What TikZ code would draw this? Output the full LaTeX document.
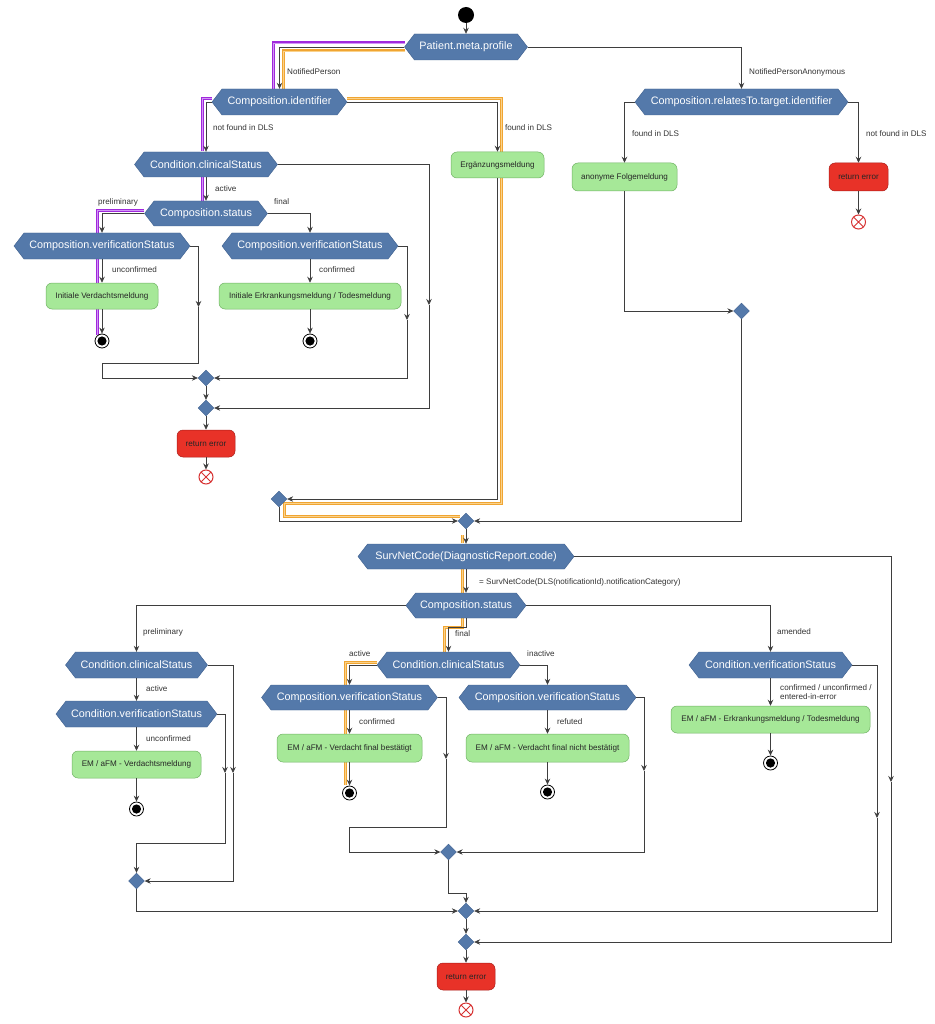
\documentclass[tikz,border=0pt]{standalone}
\usepackage{fontspec}
\setmainfont{Liberation Sans}
\usetikzlibrary{shapes.geometric,shapes.symbols,arrows.meta}
\definecolor{hexblue}{RGB}{84,121,170}
\definecolor{hexborder}{RGB}{62,96,142}
\definecolor{gfill}{RGB}{166,232,152}
\definecolor{gborder}{RGB}{112,178,100}
\definecolor{rfill}{RGB}{232,50,40}
\definecolor{rborder}{RGB}{170,30,25}
\definecolor{lgray}{RGB}{62,62,62}
\definecolor{purp}{RGB}{160,40,220}
\definecolor{purpl}{RGB}{210,150,245}
\definecolor{oran}{RGB}{240,165,50}
\definecolor{oranl}{RGB}{250,210,140}
\definecolor{xred}{RGB}{215,50,50}
\begin{document}
\begin{tikzpicture}[x=1pt,y=-1pt,
  hexnode/.style={shape=signal, signal to=west and east, signal pointer angle=105, fill=hexblue, draw=hexborder, line width=0.4pt, text=white, font=\fontsize{10.8}{12}\selectfont, inner sep=0pt, minimum height=26pt},
  gbox/.style={rectangle, rounded corners=6pt, fill=gfill, draw=gborder, line width=0.5pt, font=\fontsize{8.1}{9}\selectfont, text=black!85, inner sep=0pt, minimum height=27pt},
  rbox/.style={rectangle, rounded corners=6pt, fill=rfill, draw=rborder, line width=0.5pt, font=\fontsize{8.1}{9}\selectfont, text=black!85, inner sep=0pt, minimum height=27pt},
  dia/.style={diamond, fill=hexblue, draw=hexborder, line width=0.3pt, minimum width=16pt, minimum height=16pt, inner sep=0pt},
  conn/.style={draw=lgray, line width=0.7pt},
  arr/.style={conn, -{Stealth[length=6pt,width=5.5pt,inset=2pt]}},
  lbl/.style={font=\fontsize{8.1}{9}\selectfont, text=black!80, anchor=west, inner sep=0pt},
  startnode/.style={circle, fill=black, minimum size=16pt, inner sep=0pt},
  endnode/.style={circle, draw=black, line width=0.8pt, fill=white, minimum size=14pt, inner sep=0pt, path picture={\fill[black] (path picture bounding box.center) circle (4.6pt);}},
  xnode/.style={circle, draw=xred, line width=1pt, fill=white, minimum size=14pt, inner sep=0pt, path picture={\draw[xred,line width=1pt] (path picture bounding box.south west) -- (path picture bounding box.north east) (path picture bounding box.north west) -- (path picture bounding box.south east);}},
  purpline/.style={line width=3pt, draw=purp, postaction={draw=purpl, line width=0.9pt}},
  oranline/.style={line width=3pt, draw=oran, postaction={draw=oranl, line width=0.9pt}}
]
\useasboundingbox[fill=white] (0,0) rectangle (934,1024);

% ---------- highlight paths ----------
\draw[purpline] (405,43) -- (273,43) -- (273,89);
\draw[purpline] (212,98.5) -- (202,98.5) -- (202,151);
\draw[purpline] (202,177) -- (202,201);
\draw[purpline] (144,210.5) -- (97.5,210.5) -- (97.5,233);
\draw[purpline] (97.5,259) -- (97.5,283);
\draw[purpline] (97.5,309) -- (97.5,335);

\draw[oranline] (405,51) -- (283,51) -- (283,89);
\draw[oranline] (347,98.5) -- (501.5,98.5) -- (501.5,152);
\draw[oranline] (501.5,178) -- (501.5,503) -- (284,503) -- (284,516) -- (460,516);
\draw[oranline] (462,535) -- (462,543);
\draw[oranline] (462,569) -- (462,593);
\draw[oranline] (462,618) -- (462,627) -- (444.5,627) -- (444.5,652);
\draw[oranline] (377,662) -- (345,662) -- (345,685);
\draw[oranline] (345,710) -- (345,734);
\draw[oranline] (345,762) -- (345,785);

% ---------- nodes: top ----------
\node[startnode] (start) at (466,15) {};
\node[hexnode, minimum width=123pt] (pmp) at (466,47) {Patient.meta.profile};
\node[hexnode, minimum width=135pt] (ci) at (279.5,102) {Composition.identifier};
\node[hexnode, minimum width=213pt] (crt) at (741.5,102) {Composition.relatesTo.target.identifier};
\node[hexnode, minimum width=143pt, minimum height=25pt] (ccs1) at (206,164.5) {Condition.clinicalStatus};
\node[gbox, minimum width=93pt, minimum height=26pt] (erg) at (497.5,165) {Ergänzungsmeldung};
\node[gbox, minimum width=105pt, minimum height=28pt] (anon) at (624.5,177) {anonyme Folgemeldung};
\node[rbox, minimum width=59pt, minimum height=28pt] (err1) at (858.5,177) {return error};
\node[xnode] (x1) at (858.5,222) {};
\node[dia] (danon) at (741.5,311) {};

\node[hexnode, minimum width=123pt, minimum height=25pt] (cs1) at (206,213.5) {Composition.status};
\node[hexnode, minimum width=176pt] (cvs1) at (102,246) {Composition.verificationStatus};
\node[hexnode, minimum width=176pt] (cvs2) at (310,246) {Composition.verificationStatus};
\node[gbox, minimum width=112pt, minimum height=26pt] (ivm) at (102,296) {Initiale Verdachtsmeldung};
\node[gbox, minimum width=182pt, minimum height=26pt] (iet) at (310,296) {Initiale Erkrankungsmeldung / Todesmeldung};
\node[endnode] (e1) at (102,341) {};
\node[endnode] (e2) at (310,341) {};
\node[dia] (d1) at (206,378) {};
\node[dia] (d2) at (206,408) {};
\node[rbox, minimum width=58pt] (err2) at (206,443.5) {return error};
\node[xnode] (x2) at (206,477) {};
\node[dia] (d3) at (279,499) {};
\node[dia] (d4) at (466,521) {};

% ---------- nodes: bottom ----------
\node[hexnode, minimum width=216pt, minimum height=25pt] (svc) at (466,556.5) {SurvNetCode(DiagnosticReport.code)};
\node[hexnode, minimum width=120pt, minimum height=25pt] (cs2) at (466,605.5) {Composition.status};
\node[hexnode, minimum width=142pt] (ccs2) at (136.5,665) {Condition.clinicalStatus};
\node[hexnode, minimum width=161pt] (cvf) at (136.5,714) {Condition.verificationStatus};
\node[gbox, minimum width=129pt] (vm) at (136.5,764.5) {EM / aFM - Verdachtsmeldung};
\node[endnode] (e3) at (136.5,809) {};
\node[hexnode, minimum width=143pt] (ccs3) at (448.5,665) {Condition.clinicalStatus};
\node[hexnode, minimum width=176pt, minimum height=25pt] (cvs3) at (349.5,697.5) {Composition.verificationStatus};
\node[gbox, minimum width=145pt, minimum height=28pt] (vfb) at (349.5,748) {EM / aFM - Verdacht final bestätigt};
\node[endnode] (e4) at (349.5,793) {};
\node[hexnode, minimum width=177pt, minimum height=25pt] (cvs4) at (547.5,697.5) {Composition.verificationStatus};
\node[gbox, minimum width=163pt, minimum height=28pt] (vfnb) at (547.5,748) {EM / aFM - Verdacht final nicht bestätigt};
\node[endnode] (e5) at (547.5,792) {};
\node[hexnode, minimum width=163pt] (cvs5) at (770.5,665) {Condition.verificationStatus};
\node[gbox, minimum width=199pt] (ekt) at (770.5,719.5) {EM / aFM - Erkrankungsmeldung / Todesmeldung};
\node[endnode] (e6) at (770.5,763) {};
\node[dia] (d5) at (136.5,881) {};
\node[dia] (d6) at (448.5,852) {};
\node[dia] (d7) at (466,911) {};
\node[dia] (d8) at (466,942) {};
\node[rbox, minimum width=58pt] (err3) at (466,976.5) {return error};
\node[xnode] (x3) at (466,1010) {};

% ---------- mid-arrow coordinates ----------
\coordinate (m1) at (429,305);
\coordinate (m2) at (198.5,307);
\coordinate (m3) at (407,320);
\coordinate (m5) at (891,782);
\coordinate (m6) at (233,773);
\coordinate (m7) at (225,773);
\coordinate (m8) at (446,759);
\coordinate (m9) at (644,771);
\coordinate (m10) at (877,818);

% ---------- connectors: top ----------
\draw[arr] (start) -- (pmp.north);
\draw[arr] (pmp.west) -| (ci.north);
\draw[arr] (pmp.east) -| (crt.north);
\draw[arr] (ci.west) -| (ccs1.north);
\draw[arr] (ci.east) -| (erg.north);
\draw[arr] (crt.west) -| (anon.north);
\draw[arr] (crt.east) -| (err1.north);
\draw[arr] (err1.south) -- (x1);
\draw[arr] (anon.south) |- (danon.west);
\draw[arr] (danon.south) |- (d4.east);
\draw[arr] (ccs1.east) -| (m1);
\draw[arr] (m1) |- (d2.east);
\draw[arr] (ccs1.south) -- (cs1.north);
\draw[arr] (cs1.west) -| (cvs1.north);
\draw[arr] (cs1.east) -| (cvs2.north);
\draw[arr] (cvs1.south) -- (ivm.north);
\draw[arr] (ivm.south) -- (e1);
\draw[arr] (cvs1.east) -| (m2);
\draw[arr] (m2) -- (198.5,363) -- (102,363) |- (d1.west);
\draw[arr] (cvs2.south) -- (iet.north);
\draw[arr] (iet.south) -- (e2);
\draw[arr] (cvs2.east) -| (m3);
\draw[arr] (m3) |- (d1.east);
\draw[arr] (d1.south) -- (d2.north);
\draw[arr] (d2.south) -- (err2.north);
\draw[arr] (err2.south) -- (x2);
\draw[arr] (erg.south) |- (d3.east);
\draw[arr] (d3.south) |- (d4.west);
\draw[arr] (d4.south) -- (svc.north);

% ---------- connectors: bottom ----------
\draw[arr] (svc.south) -- (cs2.north);
\draw[arr] (svc.east) -| (m5);
\draw[arr] (m5) |- (d8.east);
\draw[arr] (cs2.west) -| (ccs2.north);
\draw[arr] (cs2.south) -- ++(0,9.5) -| (ccs3.north);
\draw[arr] (cs2.east) -| (cvs5.north);
\draw[arr] (ccs2.south) -- (cvf.north);
\draw[arr] (ccs2.east) -| (m6);
\draw[arr] (m6) |- (d5.east);
\draw[arr] (cvf.south) -- (vm.north);
\draw[arr] (vm.south) -- (e3);
\draw[arr] (cvf.east) -| (m7);
\draw[arr] (m7) -- (225,843) -- (136.5,843) -- (d5.north);
\draw[arr] (ccs3.west) -| (cvs3.north);
\draw[arr] (ccs3.east) -| (cvs4.north);
\draw[arr] (cvs3.south) -- (vfb.north);
\draw[arr] (vfb.south) -- (e4);
\draw[arr] (cvs3.east) -| (m8);
\draw[arr] (m8) -- (446,827) -- (349,827) |- (d6.west);
\draw[arr] (cvs4.south) -- (vfnb.north);
\draw[arr] (vfnb.south) -- (e5);
\draw[arr] (cvs4.east) -| (m9);
\draw[arr] (m9) |- (d6.east);
\draw[arr] (cvs5.south) -- (ekt.north);
\draw[arr] (ekt.south) -- (e6);
\draw[arr] (cvs5.east) -| (m10);
\draw[arr] (m10) |- (d7.east);
\draw[arr] (d5.south) |- (d7.west);
\draw[arr] (d6.south) -- (448.5,893) -| (d7.north);
\draw[arr] (d7.south) -- (d8.north);
\draw[arr] (d8.south) -- (err3.north);
\draw[arr] (err3.south) -- (x3);

% ---------- labels ----------
\node[lbl] (l1) at (287,72) {NotifiedPerson};
\node[lbl] (l2) at (749,72) {NotifiedPersonAnonymous};
\node[lbl] (l3) at (213,128) {not found in DLS};
\node[lbl] (l4) at (505,128) {found in DLS};
\node[lbl] (l5) at (632,134) {found in DLS};
\node[lbl] (l6) at (866,134) {not found in DLS};
\node[lbl] (l7) at (215,189) {active};
\node[lbl] (l8) at (98,202) {preliminary};
\node[lbl] (l9) at (274,202) {final};
\node[lbl] (l10) at (112,270) {unconfirmed};
\node[lbl] (l11) at (319,270) {confirmed};
\node[lbl] (l12) at (479,582) {= SurvNetCode(DLS(notificationId).notificationCategory)};
\node[lbl] (l13) at (143,632) {preliminary};
\node[lbl] (l14) at (455,634) {final};
\node[lbl] (l15) at (777,632) {amended};
\node[lbl] (l16) at (146,689) {active};
\node[lbl] (l17) at (349,654) {active};
\node[lbl] (l18) at (527,654) {inactive};
\node[lbl] (l19) at (146,739) {unconfirmed};
\node[lbl] (l20) at (359,722) {confirmed};
\node[lbl] (l21) at (557,722) {refuted};
\node[lbl, anchor=north west, align=left] (l22) at (780,684.5) {confirmed / unconfirmed /\\entered-in-error};
\end{tikzpicture}
\end{document}
